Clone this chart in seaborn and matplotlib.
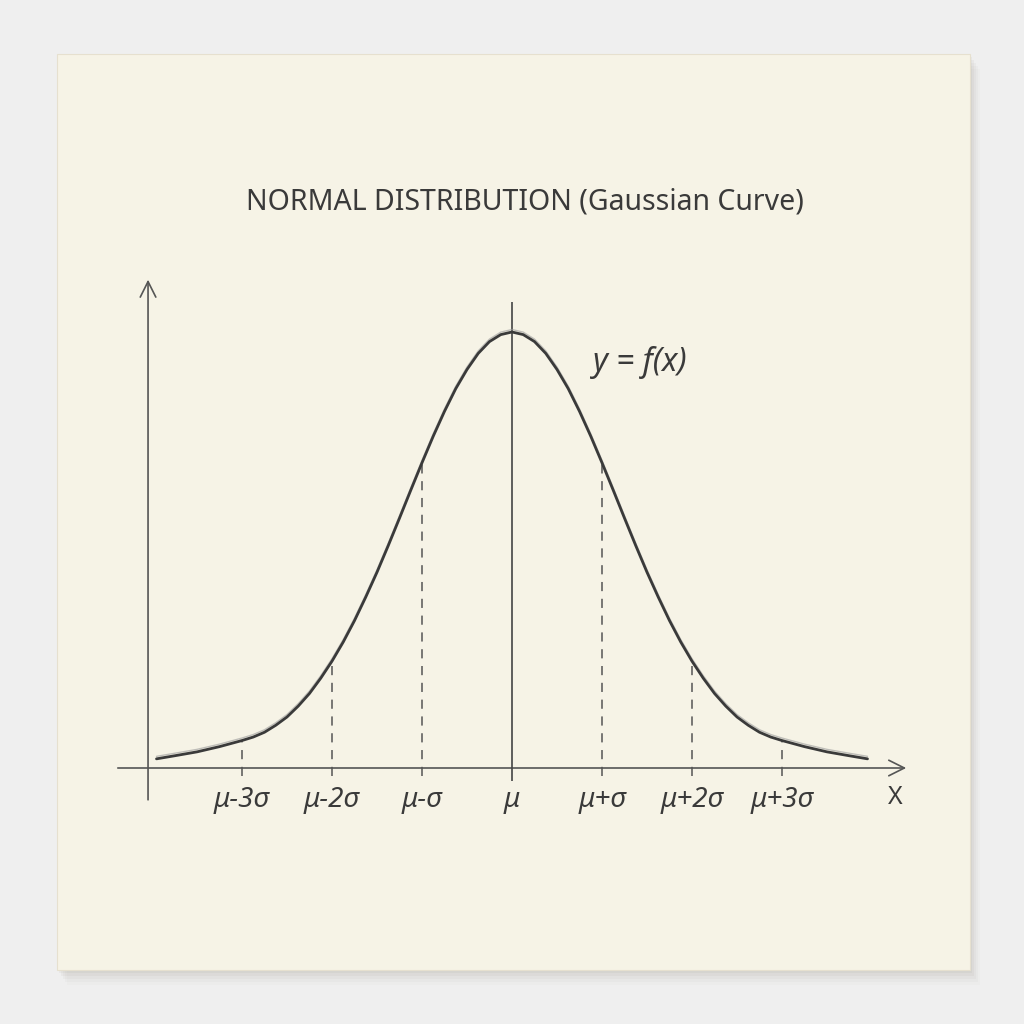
import numpy as np
import pandas as pd
import matplotlib
matplotlib.use("Agg")
import matplotlib.pyplot as plt
from matplotlib.patches import Rectangle
from matplotlib.transforms import Affine2D
import seaborn as sns

# Curve: x in units of sigma, height relative to the peak
x_sigma = [-3.95, -3.75, -3.5, -3.25, -3.0, -2.875, -2.75, -2.625, -2.5, -2.375, -2.25, -2.125,
           -2.0, -1.875, -1.75, -1.625, -1.5, -1.375, -1.25, -1.125, -1.0, -0.875, -0.75,
           -0.625, -0.5, -0.375, -0.25, -0.125, 0.0, 0.125, 0.25, 0.375, 0.5, 0.625, 0.75,
           0.875, 1.0, 1.125, 1.25, 1.375, 1.5, 1.625, 1.75, 1.875, 2.0, 2.125, 2.25, 2.375,
           2.5, 2.625, 2.75, 2.875, 3.0, 3.25, 3.5, 3.75, 3.95]
density = [0.021, 0.028, 0.037, 0.049, 0.063, 0.071, 0.082, 0.098, 0.117, 0.142, 0.171, 0.206,
           0.245, 0.289, 0.338, 0.392, 0.449, 0.510, 0.573, 0.637, 0.700, 0.761, 0.818,
           0.870, 0.914, 0.951, 0.978, 0.994, 1.000, 0.994, 0.978, 0.951, 0.914, 0.870, 0.818,
           0.761, 0.700, 0.637, 0.573, 0.510, 0.449, 0.392, 0.338, 0.289, 0.245, 0.206, 0.171, 0.142,
           0.117, 0.098, 0.082, 0.071, 0.063, 0.049, 0.037, 0.028, 0.021]

tick_pos = [-3, -2, -1, 0, 1, 2, 3]
tick_labels = ["μ-3σ", "μ-2σ", "μ-σ", "μ", "μ+σ", "μ+2σ", "μ+3σ"]

title = "NORMAL DISTRIBUTION (Gaussian Curve)"

df = pd.DataFrame({"x": x_sigma, "y": density})
height_at = dict(zip(x_sigma, density))

sns.set_theme(style="white")
plt.rcParams["font.family"] = ["Noto Sans", "DejaVu Sans"]

ink = "#3a3a3a"
paper = "#f6f3e6"

fig = plt.figure(figsize=(10.24, 10.24), dpi=100, facecolor="#efefef")
ax = fig.add_axes([0, 0, 1, 1])
ax.set_facecolor("none")
ax.axis("off")
# 90 px per sigma, mean at x=512 px; axis at y=768 px, peak 436 px above it
ax.set_xlim(-512 / 90, 512 / 90)
ax.set_ylim(-(1024 - 768) / 436, 768 / 436)

# paper card with soft shadow
for i, a in enumerate([0.05, 0.05, 0.04, 0.03, 0.02]):
    ax.add_patch(Rectangle((57 / 1024 + 0.002 * (i + 1), 54 / 1024 - 0.003 * (i + 1)),
                           913 / 1024, 916 / 1024, transform=ax.transAxes,
                           facecolor="#6b6250", alpha=a, edgecolor="none", zorder=0))
ax.add_patch(Rectangle((57 / 1024, 54 / 1024), 913 / 1024, 916 / 1024,
                       transform=ax.transAxes, facecolor=paper, edgecolor="#e6e0cf",
                       lw=0.8, zorder=1))

# axes with arrows
arrow = dict(arrowstyle="->", color="#555555", lw=1.2, mutation_scale=28, shrinkA=0, shrinkB=0)
ax.annotate("", xy=(4.38, 0), xytext=(-4.38, 0), arrowprops=arrow, zorder=3)
ax.annotate("", xy=(-4.044, 1.12), xytext=(-4.044, -0.073), arrowprops=arrow, zorder=3)

# mean line and sigma guides
ax.vlines(0, -0.03, 1.069, color="#444444", lw=1.2, zorder=3)
for p in tick_pos:
    if p != 0:
        ax.vlines(p, -0.018, height_at[float(p)], color="#555555", lw=1.1,
                  linestyles=(0, (6, 5)), zorder=3)

# pencil curve: faint sketch pass plus the main stroke
sns.lineplot(data=df, x="x", y="y", ax=ax, color="#9a9a9a", lw=1.0, alpha=0.6,
             zorder=4, sort=False)
ax.lines[-1].set_transform(ax.transData + Affine2D().translate(0, 2.5))
sns.lineplot(data=df, x="x", y="y", ax=ax, color=ink, lw=2.0, zorder=5, sort=False)
ax.lines[-1].set_solid_joinstyle("round")

for p, lab in zip(tick_pos, tick_labels):
    ax.text(p, -0.073, lab, ha="center", va="center", fontsize=20, color=ink,
            style="italic", fontweight="light", zorder=6)
ax.text(4.256, -0.067, "X", ha="center", va="center", fontsize=18, color=ink,
        fontweight="light", zorder=6)
ax.text(1.42, 0.931, "y = f(x)", ha="center", va="center", fontsize=23, color=ink,
        style="italic", fontweight="light", zorder=6)
ax.text(0.144, 1.298, title, ha="center", va="center", fontsize=20.5, color=ink,
        fontweight="light", zorder=6)

fig.savefig("out.png", dpi=100, facecolor=fig.get_facecolor())
